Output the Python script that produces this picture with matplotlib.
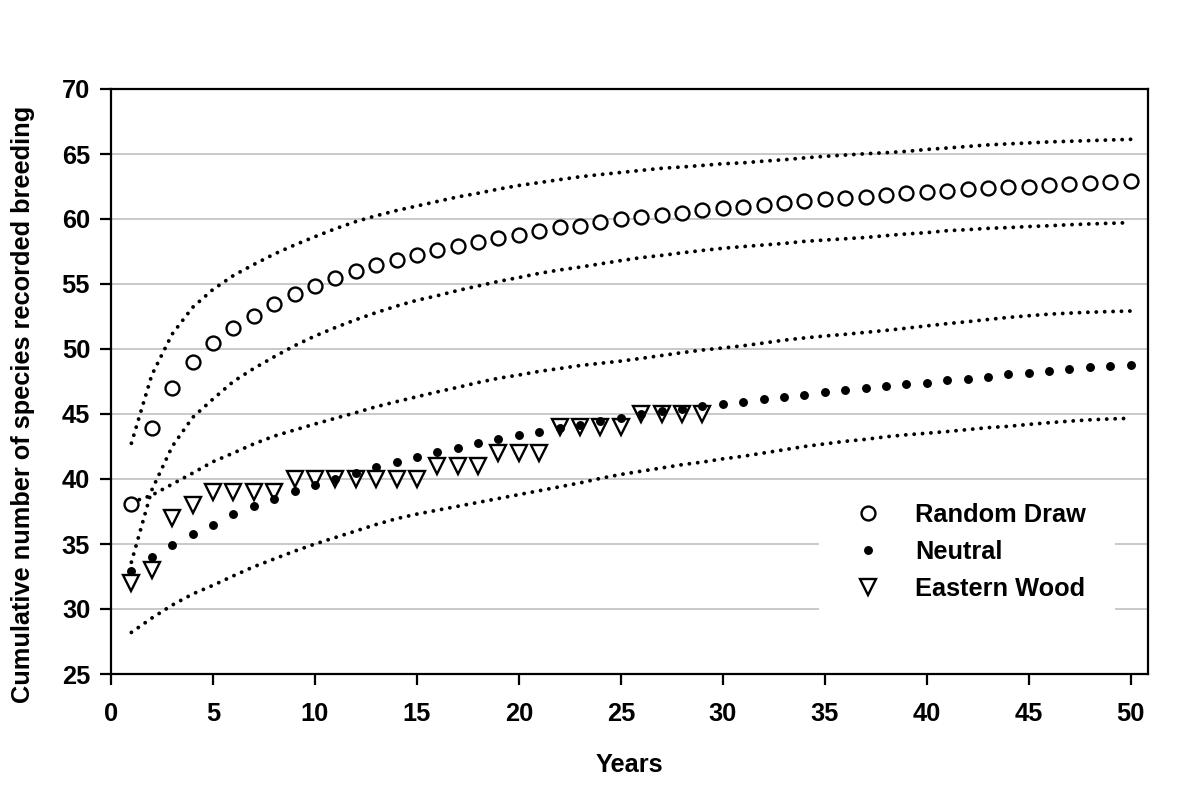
import matplotlib
matplotlib.use("Agg")
import matplotlib.pyplot as plt
import numpy as np

years = np.arange(1, 51)

random_draw = [38.1, 43.9, 47.0, 49.0, 50.44, 51.6, 52.56, 53.44, 54.2, 54.85,
               55.44, 56.0, 56.46, 56.85, 57.25, 57.6, 57.95, 58.2, 58.56, 58.8,
               59.1, 59.36, 59.5, 59.77, 60.0, 60.18, 60.3, 60.5, 60.67, 60.82,
               60.9, 61.08, 61.25, 61.4, 61.54, 61.6, 61.7, 61.87, 61.97, 62.08,
               62.18, 62.28, 62.36, 62.44, 62.5, 62.6, 62.67, 62.77, 62.87, 62.92]

neutral = [32.9, 33.97, 34.9, 35.77, 36.5, 37.28, 37.95, 38.48, 39.05, 39.56,
           40.0, 40.48, 40.9, 41.3, 41.7, 42.05, 42.4, 42.74, 43.05, 43.36,
           43.64, 43.95, 44.15, 44.46, 44.7, 44.98, 45.2, 45.4, 45.59, 45.75,
           45.95, 46.13, 46.3, 46.46, 46.67, 46.85, 47.0, 47.15, 47.28, 47.4,
           47.6, 47.72, 47.87, 48.05, 48.15, 48.3, 48.44, 48.6, 48.7, 48.77]

ew_years = np.arange(1, 30)
eastern_wood = [32, 33, 37, 38, 39, 39, 39, 39, 40, 40, 40, 40, 40, 40, 40,
                41, 41, 41, 42, 42, 42, 44, 44, 44, 44, 45, 45, 45, 45]

# confidence limits (dotted)
rd_upper = [42.75, 48.0, 51.15, 53.2, 54.58, 55.65, 56.5, 57.3, 58.0, 58.64,
            59.25, 59.8, 60.25, 60.65, 61.0, 61.35, 61.7, 61.98, 62.3, 62.58,
            62.8, 63.03, 63.25, 63.42, 63.58, 63.74, 63.9, 64.0, 64.12, 64.25,
            64.32, 64.45, 64.56, 64.7, 64.82, 64.92, 65.02, 65.1, 65.2, 65.35,
            65.46, 65.58, 65.7, 65.78, 65.85, 65.93, 65.98, 66.03, 66.08, 66.13]

rd_lower = [33.6, 39.15, 42.5, 44.73, 46.15, 47.5, 48.5, 49.4, 50.25, 51.0,
            51.65, 52.25, 52.8, 53.3, 53.75, 54.1, 54.5, 54.85, 55.2, 55.5,
            55.82, 56.08, 56.3, 56.55, 56.8, 57.03, 57.2, 57.4, 57.58, 57.75,
            57.88, 58.0, 58.12, 58.28, 58.38, 58.48, 58.58, 58.72, 58.85, 58.95,
            59.1, 59.18, 59.28, 59.34, 59.42, 59.48, 59.56, 59.62, 59.67, 59.72]

nt_upper = [38.2, 38.75, 39.6, 40.45, 41.33, 42.0, 42.7, 43.3, 43.77, 44.23,
            44.67, 45.1, 45.56, 45.95, 46.33, 46.7, 47.05, 47.42, 47.75, 48.0,
            48.28, 48.5, 48.73, 48.9, 49.07, 49.28, 49.5, 49.72, 49.92, 50.08,
            50.25, 50.46, 50.68, 50.85, 51.0, 51.13, 51.28, 51.43, 51.6, 51.78,
            51.95, 52.1, 52.27, 52.43, 52.56, 52.68, 52.76, 52.83, 52.88, 52.92]

nt_lower = [28.2, 29.3, 30.3, 31.15, 31.82, 32.55, 33.25, 33.85, 34.45, 35.0,
            35.5, 36.0, 36.5, 36.95, 37.3, 37.6, 37.9, 38.2, 38.5, 38.8,
            39.1, 39.4, 39.7, 40.05, 40.35, 40.6, 40.85, 41.1, 41.3, 41.55,
            41.75, 42.0, 42.25, 42.5, 42.7, 42.9, 43.05, 43.25, 43.4, 43.52,
            43.65, 43.8, 43.95, 44.05, 44.2, 44.33, 44.45, 44.55, 44.62, 44.67]

FONT = ["Liberation Sans", "DejaVu Sans"]
FS = 18.3

plt.rcParams["font.family"] = FONT
plt.rcParams["font.weight"] = "bold"

fig = plt.figure(figsize=(11.99, 7.86), dpi=100)
ax = fig.add_axes([111 / 1199, 1 - 674 / 786, (1148 - 111) / 1199, (674 - 89) / 786])

dot_kw = dict(color="black", lw=2.8, ls=(0, (0.01, 2.15)), dash_capstyle="round", zorder=2)
for curve in (rd_upper, rd_lower, nt_upper, nt_lower):
    ax.plot(years, curve, **dot_kw)

ax.plot(years, random_draw, ls="none", marker="o", ms=10, mfc="white", mec="black",
        mew=1.7, zorder=3, label="Random Draw")
ax.plot(ew_years, eastern_wood, ls="none", marker="v", ms=11, mfc="white", mec="black",
        mew=1.7, zorder=3, label="Eastern Wood")
ax.plot(years, neutral, ls="none", marker="o", ms=5.4, mfc="black", mec="black",
        zorder=4, label="Neutral")

ax.set_xlim(0, 50.85)
ax.set_ylim(25, 70)
ax.set_xticks(np.arange(0, 51, 5))
ax.set_yticks(np.arange(25, 71, 5))
ax.grid(axis="y", color="#c0c0c0", lw=1.2, zorder=0)
ax.set_axisbelow(True)

for sp in ax.spines.values():
    sp.set_linewidth(1.6)
    sp.set_color("black")

ax.tick_params(axis="both", direction="out", length=8, width=1.6, labelsize=FS)
ax.tick_params(axis="y", pad=7)
ax.tick_params(axis="x", pad=12)
for lbl in ax.get_xticklabels() + ax.get_yticklabels():
    lbl.set_fontweight("bold")

ax.set_xlabel("Years", fontsize=FS, fontweight="bold")
ax.set_ylabel("Cumulative number of species recorded breeding", fontsize=FS, fontweight="bold")
ax.xaxis.set_label_coords(0.5, -0.1556)
ax.xaxis.label.set_va("center")
ax.yaxis.set_label_coords(-0.085, 0.4615)
ax.yaxis.label.set_va("center")

handles, labels = ax.get_legend_handles_labels()
order = [0, 2, 1]
leg = ax.legend([handles[i] for i in order], [labels[i] for i in order],
                loc="center", bbox_to_anchor=(0.683, 0.2085, 0.2855, 0),
                mode="expand", borderaxespad=0, borderpad=0.8, handlelength=2.25,
                handletextpad=0.72, labelspacing=0.5, numpoints=1,
                prop={"family": FONT, "weight": "bold", "size": FS},
                frameon=True, fancybox=False, facecolor="white", edgecolor="none",
                framealpha=1)
leg.set_zorder(5)

fig.savefig("out.png", dpi=100)
